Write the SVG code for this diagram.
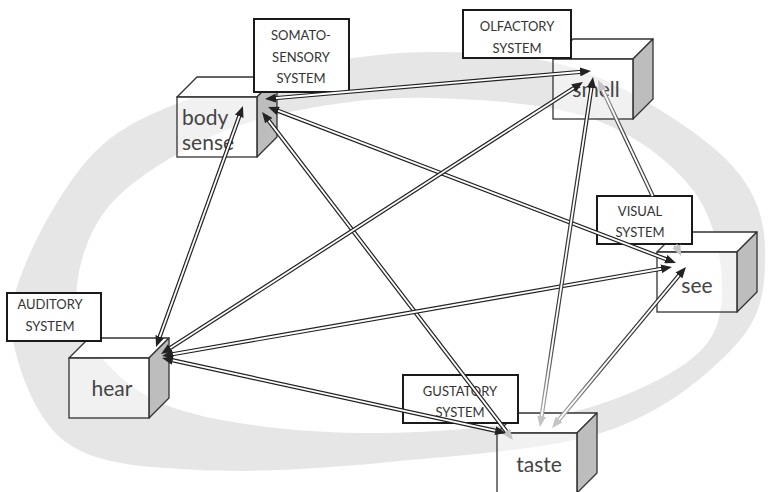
<svg xmlns="http://www.w3.org/2000/svg" width="770" height="492" viewBox="0 0 770 492">
  <style>
    .top { fill: #ffffff; stroke: #333; stroke-width: 1.3; stroke-linejoin: round; }
    .side { fill: #bdbdbd; stroke: #333; stroke-width: 1.3; stroke-linejoin: round; }
    .front { fill: #ffffff; fill-opacity: 0.45; stroke: #333; stroke-width: 1.3; }
    .sys { fill: #ffffff; stroke: #1a1a1a; stroke-width: 2; }
    .sys-t { font-family: Lato, "Open Sans", sans-serif; font-size: 13px; fill: #333; text-anchor: middle; }
    .cube-t { font-family: Lato, "Open Sans", sans-serif; font-size: 21px; fill: #444; }
    .wire-o { fill: none; stroke: #222; stroke-width: 4.2; }
    .wire-i { fill: none; stroke: #fff; stroke-width: 1.8; }
  </style>
  <defs>
    <marker id="hd" viewBox="0 0 11 9" refX="2" refY="4.5" markerWidth="11" markerHeight="9" markerUnits="userSpaceOnUse" orient="auto-start-reverse">
      <path d="M0,0 L11,4.5 L0,9 z" fill="#222"/>
    </marker>
    <marker id="hl" viewBox="0 0 11 9" refX="2" refY="4.5" markerWidth="11" markerHeight="9" markerUnits="userSpaceOnUse" orient="auto-start-reverse">
      <path d="M0,0 L11,4.5 L0,9 z" fill="#c4c4c4"/>
    </marker>
    <linearGradient id="gH" gradientUnits="userSpaceOnUse" x1="593" y1="77" x2="540" y2="427">
      <stop offset="0" stop-color="#222"/>
      <stop offset="0.75" stop-color="#444"/>
      <stop offset="1" stop-color="#bbb"/>
    </linearGradient>
    <linearGradient id="gJ" gradientUnits="userSpaceOnUse" x1="686" y1="267" x2="552" y2="428">
      <stop offset="0" stop-color="#222"/>
      <stop offset="0.6" stop-color="#444"/>
      <stop offset="1" stop-color="#bbb"/>
    </linearGradient>
    <linearGradient id="gI" gradientUnits="userSpaceOnUse" x1="598" y1="80" x2="681" y2="256">
      <stop offset="0" stop-color="#bbb"/>
      <stop offset="0.3" stop-color="#444"/>
      <stop offset="0.75" stop-color="#444"/>
      <stop offset="1" stop-color="#bbb"/>
    </linearGradient>
  </defs>

  <!-- background ring in perspective: outer and inner outline, even-odd -->
  <path fill="#e6e6e6" fill-rule="evenodd" d="M440,52 C478.3,52.3 523.3,54.3 560,64 C596.7,73.7 630,91.5 660,110 C690,128.5 722.5,151.7 740,175 C757.5,198.3 765,222.5 765,250 C765,277.5 765.8,310 740,340 C714.2,370 668.3,409.7 610,430 C551.7,450.3 458.3,455.3 390,462 C321.7,468.7 253.3,472.8 200,470 C146.7,467.2 100.8,465 70,445 C39.2,425 22.5,380 15,350 C7.5,320 11.3,298.3 25,265 C38.7,231.7 67.8,178.3 97,150 C126.2,121.7 161.2,109.7 200,95 C238.8,80.3 290,69.2 330,62 C370,54.8 401.7,51.7 440,52 Z M430,98 C478.3,99.3 546.2,102.7 590,118 C633.8,133.3 671,161.3 693,190 C715,218.7 722.5,261.7 722,290 C721.5,318.3 717,339.2 690,360 C663,380.8 615,402.8 560,415 C505,427.2 423.3,433.8 360,433 C296.7,432.2 224.2,423.8 180,410 C135.8,396.2 112.2,370.8 95,350 C77.8,329.2 74.5,309.2 77,285 C79.5,260.8 89.5,228.8 110,205 C130.5,181.2 168.3,157.8 200,142 C231.7,126.2 261.7,117.3 300,110 C338.3,102.7 381.7,96.7 430,98 Z"/>

  <!-- body sense -->
  <g id="body-sense">
    <polygon class="top" points="177,97 197,77 277,77 257,97"/>
    <polygon class="side" points="257,97 277,77 277,137 257,157"/>
    <rect class="front" x="177" y="97" width="80" height="60"/>
    <text class="cube-t" x="182" y="125">body</text>
    <text class="cube-t" x="182" y="150">sense</text>
  </g>
  <g id="somatosensory-system">
    <rect class="sys" x="254" y="19" width="95" height="73"/>
    <text class="sys-t" x="301" y="40">SOMATO-</text>
    <text class="sys-t" x="301" y="62">SENSORY</text>
    <text class="sys-t" x="301" y="83">SYSTEM</text>
  </g>

  <!-- smell -->
  <g id="smell">
    <polygon class="top" points="553,59 573,39 653,39 633,59"/>
    <polygon class="side" points="633,59 653,39 653,99 633,119"/>
    <rect class="front" x="553" y="59" width="80" height="60"/>
    <text class="cube-t" x="596" y="97" text-anchor="middle">smell</text>
  </g>
  <g id="olfactory-system">
    <rect class="sys" x="463" y="10" width="108" height="48"/>
    <text class="sys-t" x="517" y="31">OLFACTORY</text>
    <text class="sys-t" x="517" y="53">SYSTEM</text>
  </g>

  <!-- see -->
  <g id="see">
    <polygon class="top" points="657,252 677,232 757,232 737,252"/>
    <polygon class="side" points="737,252 757,232 757,292 737,312"/>
    <rect class="front" x="657" y="252" width="80" height="60"/>
    <text class="cube-t" x="697" y="293" text-anchor="middle">see</text>
  </g>
  <g id="visual-system">
    <rect class="sys" x="597" y="196" width="95" height="48"/>
    <text class="sys-t" x="640" y="216">VISUAL</text>
    <text class="sys-t" x="640" y="237">SYSTEM</text>
  </g>

  <!-- hear -->
  <g id="hear">
    <polygon class="top" points="69,358 89,338 169,338 149,358"/>
    <polygon class="side" points="149,358 169,338 169,398 149,418"/>
    <rect class="front" x="69" y="358" width="80" height="60"/>
    <text class="cube-t" x="112" y="396" text-anchor="middle">hear</text>
  </g>
  <g id="auditory-system">
    <rect class="sys" x="7" y="293" width="94" height="48"/>
    <text class="sys-t" x="50" y="309">AUDITORY</text>
    <text class="sys-t" x="50" y="331">SYSTEM</text>
  </g>

  <!-- taste -->
  <g id="taste">
    <polygon class="top" points="497,433 517,413 597,413 577,433"/>
    <polygon class="side" points="577,433 597,413 597,473 577,493"/>
    <rect class="front" x="497" y="433" width="80" height="60"/>
    <text class="cube-t" x="539" y="472" text-anchor="middle">taste</text>
  </g>
  <g id="gustatory-system">
    <rect class="sys" x="403" y="375" width="115" height="48"/>
    <text class="sys-t" x="460" y="396">GUSTATORY</text>
    <text class="sys-t" x="460" y="417">SYSTEM</text>
  </g>

  <!-- connectors: double-line shafts with heads at both ends -->
  <g id="connectors">
    <g id="body-smell">
      <path class="wire-o" d="M273.97,98.23 L582.03,71.77"/>
      <path class="wire-i" d="M273.97,98.23 L582.03,71.77" marker-start="url(#hd)" marker-end="url(#hd)"/>
    </g>
    <g id="body-see">
      <path class="wire-o" d="M276.4,110.2 L667.6,259.8"/>
      <path class="wire-i" d="M276.4,110.2 L667.6,259.8" marker-start="url(#hd)" marker-end="url(#hd)"/>
    </g>
    <g id="body-taste">
      <path class="wire-o" d="M267.5,119.1 L507.5,432.9"/>
      <path class="wire-i" d="M267.5,119.1 L507.5,432.9" marker-start="url(#hd)" marker-end="url(#hl)"/>
    </g>
    <g id="body-hear">
      <path class="wire-o" d="M239.9,114.5 L159.1,338.5"/>
      <path class="wire-i" d="M239.9,114.5 L159.1,338.5" marker-start="url(#hd)" marker-end="url(#hd)"/>
    </g>
    <g id="hear-smell">
      <path class="wire-o" d="M168.6,349.1 L575.4,86.9"/>
      <path class="wire-i" d="M168.6,349.1 L575.4,86.9" marker-start="url(#hd)" marker-end="url(#hd)"/>
    </g>
    <g id="hear-see">
      <path class="wire-o" d="M170.9,354.5 L663.1,268.5"/>
      <path class="wire-i" d="M170.9,354.5 L663.1,268.5" marker-start="url(#hd)" marker-end="url(#hd)"/>
    </g>
    <g id="hear-taste">
      <path class="wire-o" d="M170.8,359.9 L497.2,431.1"/>
      <path class="wire-i" d="M170.8,359.9 L497.2,431.1" marker-start="url(#hd)" marker-end="url(#hd)"/>
    </g>
    <g id="smell-taste">
      <path class="wire-o" d="M591.7,85.9 L541.3,418.1" style="stroke:url(#gH)"/>
      <path class="wire-i" d="M591.7,85.9 L541.3,418.1" marker-start="url(#hd)" marker-end="url(#hl)"/>
    </g>
    <!-- passes behind the VISUAL SYSTEM label, so it is split at the box -->
    <g id="smell-see">
      <path class="wire-o" d="M601.8,88.1 L652.7,196 M675.8,245 L677.2,247.9" style="stroke:url(#gI)"/>
      <path class="wire-i" d="M601.8,88.1 L652.7,196 M675.8,245 L677.2,247.9" marker-start="url(#hl)" marker-end="url(#hl)"/>
    </g>
    <g id="see-taste">
      <path class="wire-o" d="M680.2,273.9 L557.8,421.1" style="stroke:url(#gJ)"/>
      <path class="wire-i" d="M680.2,273.9 L557.8,421.1" marker-start="url(#hd)" marker-end="url(#hl)"/>
    </g>
  </g>
</svg>
